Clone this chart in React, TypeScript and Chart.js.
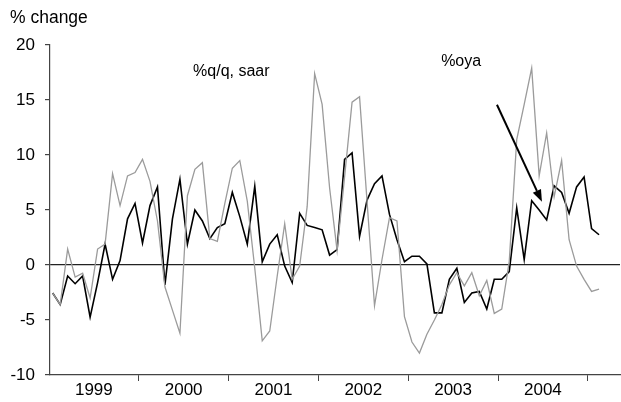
import React, { useEffect, useRef } from 'react';
import { Chart, registerables } from 'chart.js';

Chart.register(...registerables);

// Monthly data, Jan 1999 .. Feb 2005 (index 0 = Jan 1999)
const years = ['1999', '2000', '2001', '2002', '2003', '2004'];

// %oya (black line)
const oya = [
  -2.55, -3.6, -1.0, -1.7, -1.0, -4.75, -1.6, 1.9, -1.3, 0.4, 4.2, 5.6,
  2.0, 5.4, 7.1, -1.8, 4.2, 7.8, 1.9, 5.0, 4.0, 2.4, 3.4, 3.75,
  6.6, 4.4, 1.9, 7.15, 0.3, 1.9, 2.75, -0.1, -1.6, 4.7, 3.6, 3.4,
  3.2, 0.9, 1.4, 9.6, 10.2, 2.6, 5.9, 7.4, 8.1, 4.6, 2.3, 0.3,
  0.8, 0.8, 0.1, -4.35, -4.35, -1.3, -0.3, -3.4, -2.55, -2.4, -4.0, -1.3,
  -1.3, -0.6, 5.2, 0.5, 5.85, 5.0, 4.1, 7.2, 6.6, 4.7, 7.1, 8.0,
  3.3, 2.75,
];

// %q/q, saar (gray line)
const qqSaar = [
  -2.55, -3.6, 1.45, -1.1, -0.75, -3.0, 1.45, 1.9, 8.3, 5.4, 8.1, 8.4,
  9.6, 7.6, 4.0, -2.0, -4.1, -6.2, 6.3, 8.7, 9.3, 2.4, 2.15, 5.6,
  8.8, 9.5, 5.8, -0.3, -6.9, -6.0, -1.0, 3.75, -1.3, -0.1, 5.3, 17.4,
  14.6, 7.0, 1.3, 8.0, 14.8, 15.3, 5.8, -3.7, 0.5, 4.3, 4.0, -4.7,
  -7.0, -8.0, -6.3, -5.0, -3.6, -1.8, -0.7, -1.9, -0.7, -2.8, -1.4, -4.4,
  -4.0, 0.3, 11.4, 14.6, 17.9, 8.1, 12.0, 6.2, 9.5, 2.3, -0.1, -1.3,
  -2.4, -2.2,
];

const yTicks = [-10, -5, 0, 5, 10, 15, 20];

// annotations in data coordinates (month index, value)
const labelQQ = { text: '%q/q, saar', x: 18.76, y: 17.57 };
const labelOya = { text: '%oya', x: 51.9, y: 18.48 };
const arrowFrom = { x: 59.36, y: 14.57 };
const arrowTo = { x: 65.37, y: 5.75 };

const FONT = '"Liberation Sans", Arial, Helvetica, sans-serif';

const boundaryTicks = years.map((_, i) => i * 12 + 11.5);
const centerTicks = years.map((_, i) => i * 12 + 5.5);

const annotPlugin = {
  id: 'annot',
  afterDatasetsDraw(chart: any) {
    const { ctx, scales } = chart;
    const xs = scales.x;
    const ys = scales.y;
    ctx.save();
    ctx.fillStyle = '#000';
    ctx.textBaseline = 'middle';
    ctx.textAlign = 'left';
    ctx.font = `17.5px ${FONT}`;
    ctx.fillText('% change', 10, 18);
    ctx.font = `16px ${FONT}`;
    [labelQQ, labelOya].forEach((a) => {
      ctx.fillText(a.text, xs.getPixelForValue(a.x), ys.getPixelForValue(a.y));
    });
    const x0 = xs.getPixelForValue(arrowFrom.x);
    const y0 = ys.getPixelForValue(arrowFrom.y);
    const x1 = xs.getPixelForValue(arrowTo.x);
    const y1 = ys.getPixelForValue(arrowTo.y);
    const ang = Math.atan2(y1 - y0, x1 - x0);
    const head = 12;
    const hw = 4.5;
    const bx = x1 - head * Math.cos(ang);
    const by = y1 - head * Math.sin(ang);
    ctx.strokeStyle = '#000';
    ctx.lineWidth = 2;
    ctx.beginPath();
    ctx.moveTo(x0, y0);
    ctx.lineTo(bx, by);
    ctx.stroke();
    ctx.fillStyle = '#000';
    ctx.beginPath();
    ctx.moveTo(x1, y1);
    ctx.lineTo(bx + hw * Math.sin(ang), by - hw * Math.cos(ang));
    ctx.lineTo(bx - hw * Math.sin(ang), by + hw * Math.cos(ang));
    ctx.closePath();
    ctx.fill();
    ctx.restore();
  },
};

export default function App() {
  const ref = useRef<HTMLCanvasElement | null>(null);

  useEffect(() => {
    if (!ref.current) return;
    const chart = new Chart(ref.current, {
      type: 'line',
      data: {
        datasets: [
          {
            label: '%q/q, saar',
            data: qqSaar.map((v, i) => ({ x: i, y: v })),
            borderColor: '#9b9b9b',
            borderWidth: 1.3,
            pointRadius: 0,
            tension: 0,
          },
          {
            label: '%oya',
            data: oya.map((v, i) => ({ x: i, y: v })),
            borderColor: '#000000',
            borderWidth: 1.6,
            pointRadius: 0,
            tension: 0,
          },
        ],
      },
      options: {
        animation: false,
        responsive: false,
        maintainAspectRatio: false,
        layout: { padding: { top: 45, right: 1, left: 0, bottom: 0 } },
        plugins: { legend: { display: false }, tooltip: { enabled: false } },
        scales: {
          x: {
            type: 'linear',
            min: -0.36,
            max: 75.8,
            afterBuildTicks: (s: any) => {
              s.ticks = [...boundaryTicks, ...centerTicks]
                .sort((a, b) => a - b)
                .map((v) => ({ value: v }));
            },
            afterFit: (s: any) => {
              s.height = 27;
            },
            ticks: {
              autoSkip: false,
              maxRotation: 0,
              minRotation: 0,
              padding: -1,
              color: '#000',
              font: { family: FONT, size: 17 },
              callback: (v: any) => {
                const n = Number(v);
                const idx = centerTicks.indexOf(n);
                return idx >= 0 ? years[idx] : '';
              },
            },
            grid: {
              drawOnChartArea: false,
              drawTicks: true,
              tickLength: 6,
              tickColor: (c: any) =>
                c.tick && boundaryTicks.indexOf(c.tick.value) >= 0 ? '#444' : 'rgba(0,0,0,0)',
            },
            border: { display: true, color: '#444', width: 1.2 },
          },
          y: {
            min: -10,
            max: 20,
            afterBuildTicks: (s: any) => {
              s.ticks = yTicks.map((v) => ({ value: v }));
            },
            afterFit: (s: any) => {
              s.width = 50;
            },
            ticks: {
              padding: 10,
              color: '#000',
              font: { family: FONT, size: 17 },
            },
            grid: {
              drawOnChartArea: true,
              tickLength: 5,
              lineWidth: 1.2,
              color: (c: any) => (c.tick && c.tick.value === 0 ? '#222' : 'rgba(0,0,0,0)'),
              tickColor: '#444',
            },
            border: { display: true, color: '#444', width: 1.2 },
          },
        },
      },
      plugins: [annotPlugin],
    });
    return () => chart.destroy();
  }, []);

  return (
    <div style={{ position: 'fixed', left: 0, top: 0, width: 621, height: 402, background: '#fff' }}>
      <canvas ref={ref} width={621} height={402} style={{ width: 621, height: 402 }} />
    </div>
  );
}
